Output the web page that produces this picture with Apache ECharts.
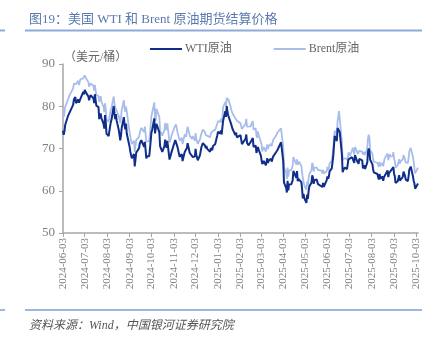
<!DOCTYPE html>
<html><head><meta charset="utf-8">
<script src="https://cdn.jsdelivr.net/npm/echarts@6/dist/echarts.min.js"></script>
<style>html,body{margin:0;padding:0;background:#fff}#c{width:437px;height:347px}</style>
</head><body><div id="c"></div>
<script>
const dates = [
'2024-06-03','2024-06-04','2024-06-05','2024-06-06','2024-06-07','2024-06-10','2024-06-11','2024-06-12','2024-06-13','2024-06-14','2024-06-17','2024-06-18','2024-06-19','2024-06-20','2024-06-21','2024-06-24','2024-06-25','2024-06-26','2024-06-27','2024-06-28',
'2024-07-01','2024-07-02','2024-07-03','2024-07-04','2024-07-05','2024-07-08','2024-07-09','2024-07-10','2024-07-11','2024-07-12','2024-07-15','2024-07-16','2024-07-17','2024-07-18','2024-07-19','2024-07-22','2024-07-23','2024-07-24','2024-07-25','2024-07-26','2024-07-29','2024-07-30','2024-07-31',
'2024-08-01','2024-08-02','2024-08-05','2024-08-06','2024-08-07','2024-08-08','2024-08-09','2024-08-12','2024-08-13','2024-08-14','2024-08-15','2024-08-16','2024-08-19','2024-08-20','2024-08-21','2024-08-22','2024-08-23','2024-08-26','2024-08-27','2024-08-28','2024-08-29','2024-08-30',
'2024-09-03','2024-09-04','2024-09-05','2024-09-06','2024-09-09','2024-09-10','2024-09-11','2024-09-12','2024-09-13','2024-09-16','2024-09-17','2024-09-18','2024-09-19','2024-09-20','2024-09-23','2024-09-24','2024-09-25','2024-09-26','2024-09-27','2024-09-30',
'2024-10-01','2024-10-02','2024-10-03','2024-10-04','2024-10-07','2024-10-08','2024-10-09','2024-10-10','2024-10-11','2024-10-14','2024-10-15','2024-10-16','2024-10-17','2024-10-18','2024-10-21','2024-10-22','2024-10-23','2024-10-24','2024-10-25','2024-10-28','2024-10-29','2024-10-30','2024-10-31',
'2024-11-01','2024-11-04','2024-11-05','2024-11-06','2024-11-07','2024-11-08','2024-11-11','2024-11-12','2024-11-13','2024-11-14','2024-11-15','2024-11-18','2024-11-19','2024-11-20','2024-11-21','2024-11-22','2024-11-25','2024-11-26','2024-11-27','2024-11-28','2024-11-29',
'2024-12-02','2024-12-03','2024-12-04','2024-12-05','2024-12-06','2024-12-09','2024-12-10','2024-12-11','2024-12-12','2024-12-13','2024-12-16','2024-12-17','2024-12-18','2024-12-19','2024-12-20','2024-12-23','2024-12-24','2024-12-26','2024-12-27','2024-12-30','2024-12-31',
'2025-01-02','2025-01-03','2025-01-06','2025-01-07','2025-01-08','2025-01-09','2025-01-10','2025-01-13','2025-01-14','2025-01-15','2025-01-16','2025-01-17','2025-01-20','2025-01-21','2025-01-22','2025-01-23','2025-01-24','2025-01-27','2025-01-28','2025-01-29','2025-01-30','2025-01-31',
'2025-02-03','2025-02-04','2025-02-05','2025-02-06','2025-02-07','2025-02-10','2025-02-11','2025-02-12','2025-02-13','2025-02-14','2025-02-17','2025-02-18','2025-02-19','2025-02-20','2025-02-21','2025-02-24','2025-02-25','2025-02-26','2025-02-27','2025-02-28',
'2025-03-03','2025-03-04','2025-03-05','2025-03-06','2025-03-07','2025-03-10','2025-03-11','2025-03-12','2025-03-13','2025-03-14','2025-03-17','2025-03-18','2025-03-19','2025-03-20','2025-03-21','2025-03-24','2025-03-25','2025-03-26','2025-03-27','2025-03-28','2025-03-31',
'2025-04-01','2025-04-02','2025-04-03','2025-04-04','2025-04-07','2025-04-08','2025-04-09','2025-04-10','2025-04-11','2025-04-14','2025-04-15','2025-04-16','2025-04-17','2025-04-21','2025-04-22','2025-04-23','2025-04-24','2025-04-25','2025-04-28','2025-04-29','2025-04-30',
'2025-05-01','2025-05-02','2025-05-05','2025-05-06','2025-05-07','2025-05-08','2025-05-09','2025-05-12','2025-05-13','2025-05-14','2025-05-15','2025-05-16','2025-05-19','2025-05-20','2025-05-21','2025-05-22','2025-05-23','2025-05-26','2025-05-27','2025-05-28','2025-05-29','2025-05-30',
'2025-06-02','2025-06-03','2025-06-04','2025-06-05','2025-06-06','2025-06-09','2025-06-10','2025-06-11','2025-06-12','2025-06-13','2025-06-16','2025-06-17','2025-06-18','2025-06-19','2025-06-20','2025-06-23','2025-06-24','2025-06-25','2025-06-26','2025-06-27','2025-06-30',
'2025-07-01','2025-07-02','2025-07-03','2025-07-04','2025-07-07','2025-07-08','2025-07-09','2025-07-10','2025-07-11','2025-07-14','2025-07-15','2025-07-16','2025-07-17','2025-07-18','2025-07-21','2025-07-22','2025-07-23','2025-07-24','2025-07-25','2025-07-28','2025-07-29','2025-07-30','2025-07-31',
'2025-08-01','2025-08-04','2025-08-05','2025-08-06','2025-08-07','2025-08-08','2025-08-11','2025-08-12','2025-08-13','2025-08-14','2025-08-15','2025-08-18','2025-08-19','2025-08-20','2025-08-21','2025-08-22','2025-08-25','2025-08-26','2025-08-27','2025-08-28','2025-08-29',
'2025-09-01','2025-09-02','2025-09-03','2025-09-04','2025-09-05','2025-09-08','2025-09-09','2025-09-10','2025-09-11','2025-09-12','2025-09-15','2025-09-16','2025-09-17','2025-09-18','2025-09-19','2025-09-22','2025-09-23','2025-09-24','2025-09-25','2025-09-26','2025-09-29','2025-09-30',
'2025-10-01','2025-10-02','2025-10-03','2025-10-06'
];
const wti = [
74.22,73.25,74.07,75.55,75.53,77.74,77.90,78.50,78.62,78.45,80.33,81.57,null,82.17,80.73,81.63,80.83,80.90,81.74,81.54,
83.38,82.81,83.88,null,83.16,82.33,81.41,82.10,82.62,82.21,81.91,80.76,82.85,82.82,80.13,79.78,76.96,77.59,78.28,77.16,75.81,74.73,77.91,
76.31,73.52,72.94,73.20,75.23,76.19,76.84,80.06,78.35,76.98,78.16,76.65,74.37,73.17,71.93,73.01,74.83,77.42,75.53,74.52,75.91,73.55,
70.34,69.20,69.15,67.67,68.71,65.75,67.31,68.97,68.65,70.09,71.19,70.91,71.95,71.92,70.37,71.56,69.69,67.67,68.18,68.17,
69.83,70.10,73.71,74.38,77.14,73.57,73.24,75.85,75.56,73.83,70.58,70.39,70.67,69.22,70.56,72.09,70.77,70.19,71.78,67.38,67.21,68.61,69.26,
69.49,71.47,71.99,71.69,72.36,70.38,68.04,68.12,68.43,68.70,67.02,69.16,69.39,68.87,70.10,71.24,68.94,68.77,68.72,null,68.00,
68.10,69.94,68.54,68.30,67.20,68.37,68.59,70.29,70.02,71.29,70.71,70.08,70.58,69.91,69.46,69.24,70.10,69.62,70.60,70.99,71.72,
73.13,73.96,73.56,74.25,73.32,null,76.57,78.82,77.50,80.04,78.68,77.88,null,75.83,75.44,74.62,74.66,73.17,73.77,72.62,72.73,72.53,
73.16,72.70,71.03,70.61,71.00,72.32,73.32,71.37,71.29,70.74,null,71.85,72.25,72.48,70.40,70.70,68.93,68.62,70.35,69.76,
68.37,68.26,66.31,66.36,67.04,66.03,66.25,67.68,66.55,67.18,67.58,66.90,67.16,68.07,68.28,69.11,69.00,69.65,69.92,69.36,71.48,
71.20,71.71,66.95,61.99,60.70,59.58,62.35,60.07,61.50,61.53,61.33,62.47,64.68,63.08,64.67,62.27,62.79,63.02,62.05,60.42,58.21,
59.24,58.29,57.13,59.09,58.07,59.91,61.02,61.95,63.67,63.15,61.62,62.49,62.69,62.56,61.57,61.20,61.53,null,60.89,61.84,60.94,60.79,
62.52,63.41,62.85,63.37,64.58,65.29,64.98,68.15,68.04,72.98,71.77,74.84,75.14,null,73.84,68.51,64.37,64.92,65.24,65.52,65.11,
65.45,67.45,67.00,null,67.93,68.33,68.38,66.57,68.45,66.98,66.52,66.38,67.54,67.34,67.20,65.31,65.25,66.03,65.16,66.71,69.21,70.00,69.26,
67.33,66.29,65.16,64.35,63.88,63.88,63.96,63.17,62.65,63.96,62.80,63.42,62.35,63.21,63.52,63.66,64.80,63.25,64.15,64.60,64.01,
null,65.59,63.97,63.48,61.87,62.26,62.63,63.67,62.37,62.69,63.30,64.52,64.05,63.57,62.68,62.28,63.41,64.99,64.98,65.72,63.45,62.37,
61.78,60.48,60.88,61.69
];
const brent = [
78.36,77.52,78.41,79.87,79.62,81.63,81.92,82.60,82.75,82.62,84.25,85.33,85.07,85.71,85.24,86.01,85.01,85.25,86.39,86.41,
86.60,86.24,87.34,87.43,86.54,85.75,84.66,85.08,85.40,85.03,84.85,83.73,85.08,85.11,82.63,82.40,81.01,81.71,82.37,81.13,79.78,78.63,80.72,
79.52,76.81,76.30,76.48,78.33,79.16,79.66,82.30,80.69,79.76,80.04,79.68,77.66,77.20,76.05,77.22,79.02,81.43,79.55,78.65,79.94,78.80,
73.75,72.70,72.69,71.06,71.84,69.19,70.61,71.97,71.61,72.75,73.70,73.65,74.88,74.49,73.90,75.17,73.46,71.60,71.98,71.77,
73.56,73.90,77.62,78.05,80.93,77.18,76.58,79.40,79.04,77.46,74.25,74.22,74.45,73.06,74.29,76.04,74.96,74.38,75.98,71.42,71.12,72.55,73.16,
73.10,75.08,75.53,75.69,75.63,73.87,71.83,71.89,72.28,72.56,71.04,73.30,73.31,72.81,74.23,75.17,73.01,72.81,72.83,72.28,72.94,
71.83,73.62,72.31,72.09,71.12,72.14,72.19,73.52,73.41,74.49,73.91,73.19,73.39,72.88,72.94,72.63,73.58,73.26,74.17,74.39,74.64,
75.93,76.51,76.30,77.05,76.16,76.92,79.76,81.01,79.92,82.03,81.29,81.79,80.15,79.29,79.00,78.29,78.50,77.08,77.49,76.58,76.87,76.76,
75.96,76.20,74.61,74.29,74.66,75.87,77.00,75.18,75.02,74.74,75.22,75.84,76.04,76.48,74.43,74.78,73.02,72.53,74.04,73.18,
71.62,71.04,69.30,69.46,70.36,69.28,69.56,70.95,69.88,70.58,71.07,70.56,70.78,72.00,72.16,73.00,73.02,73.79,74.03,73.63,74.74,
74.49,74.95,70.14,65.58,64.21,62.82,65.48,63.33,64.76,64.88,64.67,65.85,67.96,66.26,67.44,66.12,66.55,66.87,65.86,64.25,63.12,
62.13,61.29,60.23,62.15,61.12,62.84,63.91,64.96,66.63,66.09,64.53,65.41,65.54,65.38,64.91,64.44,64.78,64.74,64.09,64.90,64.15,63.90,
64.63,65.63,64.86,65.34,66.47,67.04,66.87,69.77,69.36,74.23,73.23,76.45,76.70,78.85,77.01,71.48,67.14,67.68,67.73,67.77,67.61,
67.11,69.11,68.80,68.30,69.58,70.15,70.19,68.64,70.36,69.21,68.71,68.52,69.52,69.28,69.21,68.59,68.51,69.18,68.44,70.04,72.51,73.24,72.53,
69.67,68.76,67.64,66.89,66.43,66.59,66.63,66.12,65.63,66.84,65.85,66.60,65.79,66.84,67.67,67.73,68.80,67.22,68.05,68.62,68.12,
68.15,69.14,67.60,66.99,65.50,66.02,66.39,67.49,66.37,66.99,67.44,68.47,67.95,67.44,66.68,66.57,67.63,69.31,69.42,70.13,67.97,67.02,
65.35,64.11,64.53,65.47
];
const tickLabels = ['2024-06-03','2024-07-03','2024-08-03','2024-09-03','2024-10-03','2024-11-03','2024-12-03','2025-01-03','2025-02-03','2025-03-03','2025-04-03','2025-05-03','2025-06-03','2025-07-03','2025-08-03','2025-09-03','2025-10-03'];
const yTicks = [50, 60, 70, 80, 90];
const seriesNames = ['WTI原油', 'Brent原油'];

const DAY = 86400000;
const base = Date.parse(dates[0]);
const toX = d => Math.round((Date.parse(d) - base) / DAY);
const lastX = toX(dates[dates.length - 1]);
const fmt = v => { const d = new Date(base + v * DAY); return d.toISOString().slice(0, 10); };
const pairs = arr => dates.map((d, i) => [toX(d), arr[i]]);

const serif = "'Liberation Serif', 'Noto Sans CJK SC', serif";
const chart = echarts.init(document.getElementById('c'), null, {renderer: 'canvas'});
chart.setOption({
  animation: false,
  backgroundColor: '#fff',
  grid: {left: 63, right: 19, top: 64, bottom: 114, containLabel: false},
  title: [
    {text: '图19：美国 WTI 和 Brent 原油期货结算价格', left: 24, top: 8,
     textStyle: {color: '#5b79b0', fontSize: 13, fontWeight: 'normal', fontFamily: serif}},
    {text: '资料来源：Wind，中国银河证券研究院', left: 24, top: 315,
     textStyle: {color: '#555', fontSize: 12, fontWeight: 'normal', fontStyle: 'italic', fontFamily: serif}}
  ],
  graphic: [
    {type: 'line', shape: {x1: 25, y1: 30.5, x2: 422, y2: 30.5}, style: {stroke: '#8eaadb', lineWidth: 2}},
    {type: 'line', shape: {x1: 0, y1: 30.5, x2: 5, y2: 30.5}, style: {stroke: '#8eaadb', lineWidth: 2}},
    {type: 'line', shape: {x1: 25, y1: 310, x2: 422, y2: 310}, style: {stroke: '#7e9fd6', lineWidth: 1.5}},
    {type: 'line', shape: {x1: 0, y1: 310, x2: 5, y2: 310}, style: {stroke: '#7e9fd6', lineWidth: 1.5}},
    {type: 'text', left: 64, top: 52, style: {text: '（美元/桶）', fill: '#666', font: "12px 'Liberation Serif', 'Noto Sans CJK SC'"}}
  ],
  legend: {
    left: 145, top: 38, itemGap: 42, itemWidth: 32, itemHeight: 2, icon: 'rect',
    textStyle: {color: '#666', fontSize: 12, fontFamily: serif, padding: [0, 0, 0, -2]},
    data: seriesNames
  },
  xAxis: {
    type: 'value', min: 0, max: lastX,
    splitLine: {show: false},
    axisLine: {show: true, onZero: false, lineStyle: {color: '#a6a6a6', width: 1.5}},
    axisTick: {show: true, length: 4, customValues: tickLabels.map(toX), lineStyle: {color: '#a6a6a6'}},
    axisLabel: {rotate: 90, customValues: tickLabels.map(toX), formatter: v => fmt(v),
      color: '#808080', fontSize: 11, fontFamily: serif, margin: 5}
  },
  yAxis: {
    type: 'value', min: yTicks[0], max: yTicks[yTicks.length - 1], interval: 10,
    splitLine: {show: false},
    axisLine: {show: true, lineStyle: {color: '#a6a6a6', width: 1.5}},
    axisTick: {show: true, length: 4, lineStyle: {color: '#a6a6a6'}},
    axisLabel: {color: '#808080', fontSize: 13, fontFamily: serif, margin: 8}
  },
  series: [
    {name: seriesNames[1], type: 'line', data: pairs(brent), showSymbol: false, connectNulls: true,
     lineStyle: {color: '#a9bdea', width: 1.8}, itemStyle: {color: '#a9bdea'}, z: 2},
    {name: seriesNames[0], type: 'line', data: pairs(wti), showSymbol: false, connectNulls: true,
     lineStyle: {color: '#0f2e8a', width: 2}, itemStyle: {color: '#0f2e8a'}, z: 3}
  ]
});
</script></body></html>
